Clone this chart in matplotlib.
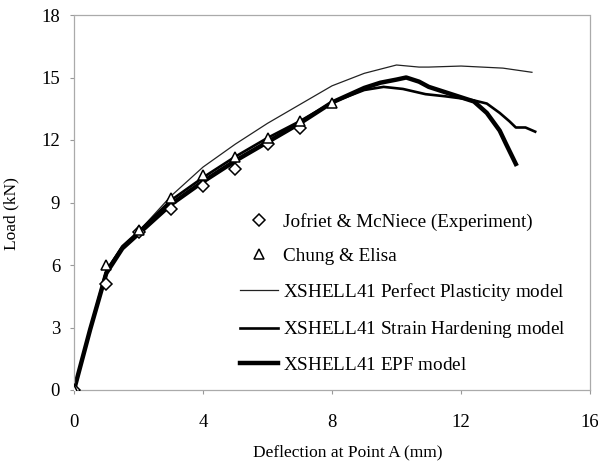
import matplotlib
matplotlib.use("Agg")
import matplotlib.pyplot as plt

plt.rcParams['font.family'] = ['Liberation Serif', 'DejaVu Serif']
plt.rcParams['mathtext.fontset'] = 'custom'
plt.rcParams['mathtext.rm'] = 'Liberation Serif'
plt.rcParams['mathtext.it'] = 'Liberation Serif:italic'

# Experimental points
EXP_X = [0, 1, 2, 3, 4, 5, 6, 7]
EXP_Y = [0, 5.1, 7.6, 8.7, 9.8, 10.6, 11.8, 12.6]
CHUNG_X = [0, 1, 2, 3, 4, 5, 6, 7, 8]
CHUNG_Y = [0, 6.0, 7.7, 9.2, 10.3, 11.2, 12.1, 12.9, 13.8]

# XSHELL41 model curves
PP_X = [0, 0.5, 1, 1.5, 2, 3, 4, 5, 6, 7, 8, 9, 10, 10.7, 11, 12, 13.3, 14.2]
PP_Y = [0, 2.9, 5.8, 6.9, 7.6, 9.3, 10.7, 11.8, 12.8, 13.7, 14.6, 15.2, 15.6,
        15.5, 15.5, 15.55, 15.45, 15.25]
SH_X = [0, 0.5, 1, 1.5, 2, 3, 4, 5, 6, 7, 8, 9, 9.6, 10.2, 10.9, 11.5, 12,
        12.4, 12.8, 13.2, 13.5, 13.7, 14.0, 14.3]
SH_Y = [0, 2.9, 5.7, 6.9, 7.6, 9.1, 10.2, 11.2, 12.1, 12.9, 13.8, 14.4, 14.55,
        14.45, 14.2, 14.1, 14.0, 13.9, 13.75, 13.3, 12.9, 12.6, 12.6, 12.4]
EPF_X = [0, 0.5, 1, 1.5, 2, 3, 4, 5, 6, 7, 8, 9, 9.5, 10, 10.3, 10.7, 11,
         11.5, 12, 12.4, 12.8, 13.2, 13.4, 13.7]
EPF_Y = [0, 2.9, 5.6, 6.8, 7.5, 8.9, 10.0, 11.0, 11.9, 12.8, 13.8, 14.5, 14.75,
         14.9, 15.0, 14.8, 14.55, 14.3, 14.05, 13.85, 13.3, 12.45, 11.8, 10.85]

fig = plt.figure(figsize=(5.98, 4.76), dpi=100)
ax = fig.add_axes([74/598, 1 - 390/476, 516/598, 375/476])

ax.plot(EXP_X, EXP_Y, linestyle='none', marker='D', markersize=6.5,
        markerfacecolor='white', markeredgecolor='black', markeredgewidth=1.1,
        label='Jofriet & McNiece (Experiment)', zorder=4)
ax.plot(CHUNG_X, CHUNG_Y, linestyle='none', marker='^', markersize=6.5,
        markerfacecolor='white', markeredgecolor='black', markeredgewidth=1.1,
        label='Chung & Elisa', zorder=5)
ax.plot(PP_X, PP_Y, color='#222222', linewidth=0.9,
        label=r'XSHELL$\it{4}$1 Perfect Plasticity model')
ax.plot(SH_X, SH_Y, color='black', linewidth=1.9,
        label=r'XSHELL$\it{4}$1 Strain Hardening model')
ax.plot(EPF_X, EPF_Y, color='black', linewidth=3.2,
        label=r'XSHELL$\it{4}$1 EPF model')

ax.set_xlim(0, 16)
ax.set_ylim(0, 18)
ax.set_xticks(range(0, 17, 4))
ax.set_yticks(range(0, 19, 3))
ax.tick_params(labelsize=13.5, length=3, color='#999999', direction='out')
ax.tick_params(axis='x', pad=14)
ax.tick_params(axis='y', pad=7)
ax.set_xlabel('Deflection at Point A (mm)', fontsize=12.5)
ax.set_ylabel('Load (kN)', fontsize=12.5)
ax.xaxis.set_label_coords(0.53, -0.145)
ax.yaxis.set_label_coords(-0.105, 0.47)

for s in ax.spines.values():
    s.set_color('#aaaaaa')
    s.set_linewidth(0.9)
    s.set_linestyle((0, (1, 1)))

ax.legend(loc='upper left', bbox_to_anchor=(240/598, 1 - 213/476),
          bbox_transform=fig.transFigure, frameon=False, fontsize=13.8,
          borderpad=0, borderaxespad=0, handlelength=2.0, handletextpad=0.25,
          labelspacing=0.85)

fig.savefig('out.png', dpi=100)
